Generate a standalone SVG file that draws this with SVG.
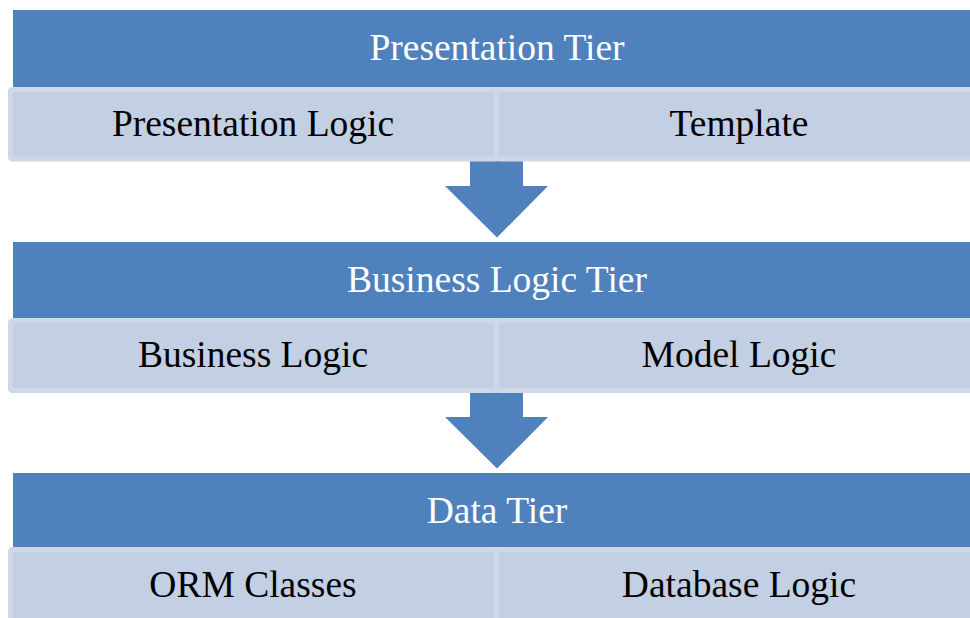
<svg xmlns="http://www.w3.org/2000/svg" width="970" height="618" viewBox="0 0 970 618">
<style>
.hdr{fill:#4F81BD}
.cell{fill:#C3CFE2;stroke:#D0D8E8;stroke-width:5}
.arrow{fill:#4F81BD}
text{font-family:"Liberation Serif","Times New Roman",serif;font-size:37.5px;text-anchor:middle}
.ht{fill:#FFFFFF}
.ct{fill:#000000}
</style>
<rect width="970" height="618" fill="#FFFFFF"/>
<g id="connectors">
<polygon class="arrow" points="470,160 523,160 523,186 548,186 497,237.5 445,186 470,186"/>
<polygon class="arrow" points="470,391 523,391 523,417 548,417 497,468.5 445,417 470,417"/>
</g>
<g id="presentation-tier">
<rect class="hdr" x="13" y="10" width="975" height="77"/>
<text class="ht" x="497" y="60">Presentation Tier</text>
</g>
<g id="presentation-logic">
<rect class="cell" x="10.5" y="89.5" width="486" height="69.5" rx="2"/>
<text class="ct" x="253" y="136">Presentation Logic</text>
</g>
<g id="template">
<rect class="cell" x="496.5" y="89.5" width="490" height="69.5" rx="2"/>
<text class="ct" x="739" y="136">Template</text>
</g>
<g id="business-logic-tier">
<rect class="hdr" x="13" y="242" width="975" height="76"/>
<text class="ht" x="497" y="292">Business Logic Tier</text>
</g>
<g id="business-logic">
<rect class="cell" x="10.5" y="320.5" width="486" height="70" rx="2"/>
<text class="ct" x="253" y="367">Business Logic</text>
</g>
<g id="model-logic">
<rect class="cell" x="496.5" y="320.5" width="490" height="70" rx="2"/>
<text class="ct" x="739" y="367">Model Logic</text>
</g>
<g id="data-tier">
<rect class="hdr" x="13" y="473" width="975" height="74"/>
<text class="ht" x="497" y="523">Data Tier</text>
</g>
<g id="orm-classes">
<rect class="cell" x="10.5" y="549.5" width="486" height="72" rx="2"/>
<text class="ct" x="253" y="597">ORM Classes</text>
</g>
<g id="database-logic">
<rect class="cell" x="496.5" y="549.5" width="490" height="72" rx="2"/>
<text class="ct" x="739" y="597">Database Logic</text>
</g>
</svg>
